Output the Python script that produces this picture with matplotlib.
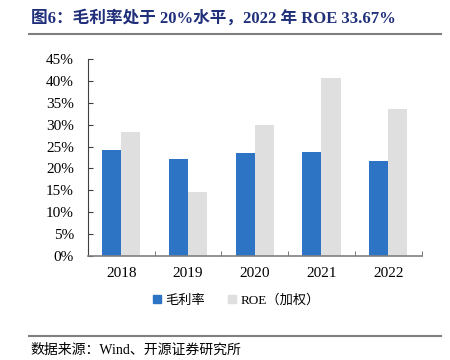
import numpy as np
import matplotlib.pyplot as plt
from matplotlib.patches import Patch
from matplotlib.lines import Line2D
from matplotlib.ticker import PercentFormatter

plt.rcParams['font.family'] = ['Liberation Serif', 'Noto Sans CJK SC']

years = ['2018', '2019', '2020', '2021', '2022']
gross_margin = [24.2, 22.2, 23.5, 23.7, 21.8]
roe = [28.3, 14.6, 29.9, 40.6, 33.67]

blue = '#2E74C5'
grey = '#DFDFDF'

fig = plt.figure(figsize=(4.5, 3.6), dpi=100)
ax = fig.add_axes([0.195, 0.2897, 0.742, 0.5456])

x = np.arange(len(years))
w = 0.285
ax.bar(x - w / 2, np.array(gross_margin) / 100, width=w, color=blue, label='毛利率')
ax.bar(x + w / 2, np.array(roe) / 100, width=w, color=grey, label='ROE（加权）')

ax.set_xlim(-0.5, len(years) - 0.5)
ax.set_ylim(0, 0.45)
ax.set_yticks(np.arange(0, 0.451, 0.05))
ax.yaxis.set_major_formatter(PercentFormatter(1.0, decimals=0))
ax.set_xticks(x)
ax.set_xticklabels(years)
ax.set_xticks(np.arange(0.5, len(years) - 0.4, 1), minor=True)

for s in ['top', 'right']:
    ax.spines[s].set_visible(False)
ax.spines['left'].set_color('#404040')
ax.spines['bottom'].set_color('#808080')
ax.spines['bottom'].set_linewidth(1.2)
ax.tick_params(axis='y', direction='in', length=3.5, color='#404040', labelsize=11, pad=10)
ax.tick_params(axis='x', which='major', length=0, labelsize=11, pad=8)
ax.tick_params(axis='x', which='minor', direction='in', length=3.5, color='#606060')

handles = [Patch(color=blue), Patch(color=grey)]
fig.legend(handles, ['毛利率', 'ROE（加权）'], loc='center', bbox_to_anchor=(0.525, 0.165),
           ncol=2, frameon=False, fontsize=9.5, handlelength=0.6, handleheight=0.6,
           handletextpad=0.3, columnspacing=1.8)

fig.text(0.068, 0.95, '图6：毛利率处于 20%水平，2022 年 ROE 33.67%', fontsize=12,
         fontweight='bold', color='#1F2F7A', va='center', ha='left')
fig.add_artist(Line2D([0.064, 0.98], [0.905, 0.905], color='#7F7F7F', lw=1.5))
fig.add_artist(Line2D([0.064, 0.98], [0.068, 0.068], color='#7F7F7F', lw=1.5))
fig.text(0.068, 0.028, '数据来源：Wind、开源证券研究所', fontsize=10, color='#000000',
         va='center', ha='left')

fig.savefig('out.png', dpi=100)
